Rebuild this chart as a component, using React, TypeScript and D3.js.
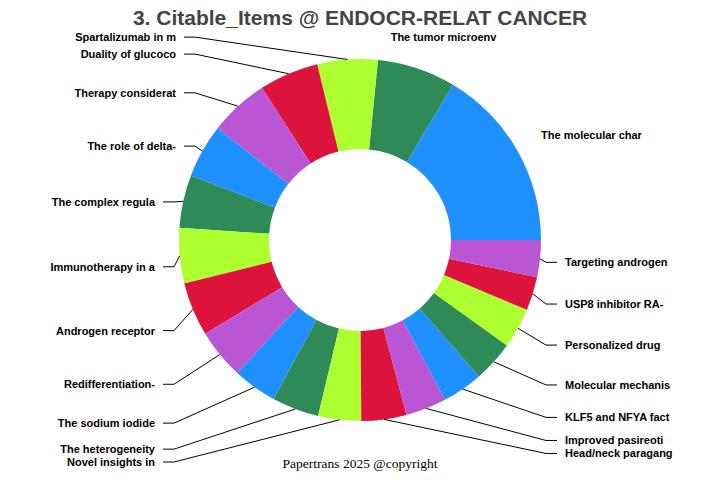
import { useMemo } from 'react'
import * as d3 from 'd3'

// slice labels (truncated titles), in drawing order
const LABELS = [
  'The molecular char', 'The tumor microenv', 'Spartalizumab in m', 'Duality of glucoco',
  'Therapy considerat', 'The role of delta-', 'The complex regula', 'Immunotherapy in a',
  'Androgen receptor', 'Redifferentiation-', 'The sodium iodide', 'The heterogeneity',
  'Novel insights in', 'Head/neck paragang', 'Improved pasireoti', 'KLF5 and NFYA fact',
  'Molecular mechanis', 'Personalized drug', 'USP8 inhibitor RA-', 'Targeting androgen',
]
// citable items share
const VALUES = [
  59.1, 25.2, 19.4, 19.1, 19.1, 17.3, 16.9, 17.8, 17.3, 16.1,
  14.2, 15.1, 13.8, 14.5, 13.1, 13.1, 13.2, 13.0, 10.8, 11.9,
]
const COLORS = ['#1E90FF', '#2E8B57', '#ADFF2F', '#DC143C', '#BA55D3']

const TITLE = '3. Citable_Items @ ENDOCR-RELAT CANCER'
const FOOTER = 'Papertrans 2025 @copyright'

const W = 720
const H = 480
const CX = 360
const CY = 240
const R_OUT = 181
const R_IN = 91
const ELBOW = 186
const LINE_END = 197
const TEXT_X = 205
// labels in the upper-left quadrant sit closer to the ring
const UPPER_LEFT_DX = 21
const UPPER_LEFT_DY = 4
const LABEL_FONT = '"Liberation Sans", Arial, sans-serif'

export default function App() {
  const arcs = useMemo(() => {
    // counter-clockwise from 3 o'clock, like base R pie()
    const pie = d3.pie<number>()
      .sort(null)
      .startAngle(Math.PI / 2)
      .endAngle(Math.PI / 2 - 2 * Math.PI)
    return pie(VALUES)
  }, [])

  const arcGen = d3.arc<d3.PieArcDatum<number>>()
    .innerRadius(R_IN)
    .outerRadius(R_OUT)

  const total = d3.sum(VALUES)

  return (
    <div style={{ position: 'fixed', left: 0, top: 0 }}>
      <svg width={W} height={H} style={{ display: 'block', background: '#fff' }}>
        <text
          x={CX}
          y={25}
          textAnchor="middle"
          fontFamily={LABEL_FONT}
          fontWeight="bold"
          fontSize={21}
          fill="#444444"
        >
          {TITLE}
        </text>

        <g transform={`translate(${CX},${CY})`}>
          {arcs.map((a, i) => (
            <path key={i} d={arcGen(a) || ''} fill={COLORS[i % COLORS.length]} />
          ))}
        </g>

        {arcs.map((a, i) => {
          const mid = (a.startAngle + a.endAngle) / 2
          const sx = Math.sin(mid)
          const sy = -Math.cos(mid)
          const right = sx >= 0
          const share = a.value / total

          // big slices: label floats beside the ring, no leader
          if (share > 0.06) {
            return (
              <text
                key={i}
                x={CX + 1.47 * R_OUT * sx}
                y={CY + 1.18 * R_OUT * sy}
                textAnchor="middle"
                dominantBaseline="central"
                fontFamily={LABEL_FONT}
                fontWeight="bold"
                fontSize={11}
                fill="#000"
              >
                {LABELS[i]}
              </text>
            )
          }

          const upperLeft = !right && sy < -0.4
          const dx = upperLeft ? UPPER_LEFT_DX : 0
          const ly = CY + 1.19 * R_OUT * sy + (right ? 0 : 8) + (upperLeft ? UPPER_LEFT_DY : 0)
          const dir = right ? 1 : -1
          const pts: [number, number][] = [
            [CX + R_OUT * sx, CY + R_OUT * sy],
            [CX + dir * ELBOW + dx, ly],
            [CX + dir * LINE_END + dx, ly],
          ]
          return (
            <g key={i}>
              <path d={d3.line()(pts) || ''} fill="none" stroke="#000" strokeWidth={1} />
              <text
                x={CX + dir * TEXT_X + dx}
                y={ly}
                textAnchor={right ? 'start' : 'end'}
                dominantBaseline="central"
                fontFamily={LABEL_FONT}
                fontWeight="bold"
                fontSize={11}
                fill="#000"
              >
                {LABELS[i]}
              </text>
            </g>
          )
        })}

        <text
          x={CX}
          y={468}
          textAnchor="middle"
          fontFamily='"Liberation Serif", "Times New Roman", serif'
          fontSize={13.5}
          fill="#000"
        >
          {FOOTER}
        </text>
      </svg>
    </div>
  )
}
